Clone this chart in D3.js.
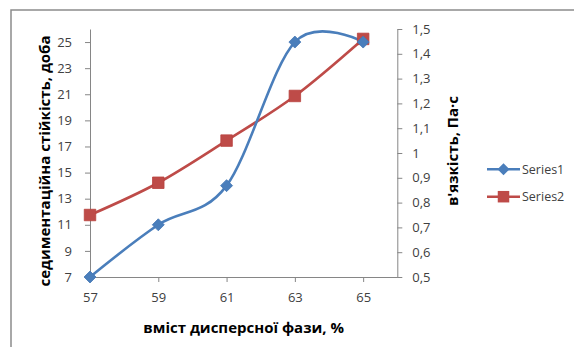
<!DOCTYPE html>
<html>
<head>
<meta charset="utf-8">
<script src="https://cdn.jsdelivr.net/npm/d3@7"></script>
<style>
  html, body { margin: 0; padding: 0; background: #fff; }
  svg { display: block; font-family: "Open Sans", "Noto Sans", sans-serif; }
</style>
</head>
<body>
<svg id="chart" width="574" height="347"></svg>
<script>
// ---- data ----
const xValues = [57, 59, 61, 63, 65];
const series1 = [7, 11, 14, 25, 25];          // седиментаційна стійкість, доба (left axis)
const series2 = [0.75, 0.88, 1.05, 1.23, 1.46]; // в'язкість, Па·с (right axis)
const seriesNames = ["Series1", "Series2"];
const xTicks = [57, 59, 61, 63, 65];
const leftTicks = [7, 9, 11, 13, 15, 17, 19, 21, 23, 25];
const rightTicks = [0.5, 0.6, 0.7, 0.8, 0.9, 1.0, 1.1, 1.2, 1.3, 1.4, 1.5];
const rightTickLabels = ["0,5", "0,6", "0,7", "0,8", "0,9", "1", "1,1", "1,2", "1,3", "1,4", "1,5"];
const xTitle = "вміст дисперсної фази, %";
const leftTitle = "седиментаційна стійкість, доба";
const rightTitle = "в'язкість, Па·с";

const blue = "#4A7EBB", red = "#BE4B48";
const axisColor = "#868686", textColor = "#404040";

const svg = d3.select("#chart");

// outer chart border (top and left visible)
svg.append("path")
  .attr("d", "M11,347 L11,10 L574,10")
  .attr("fill", "none").attr("stroke", "#8c8c8c").attr("stroke-width", 1.5);

const plot = { left: 90, right: 397.3, top: 29, bottom: 277 };

const x = d3.scaleLinear().domain([57, 66]).range([plot.left, plot.right]);
const yL = d3.scaleLinear().domain([7, 26]).range([plot.bottom, plot.top]);
const yR = d3.scaleLinear().domain([0.5, 1.5]).range([plot.bottom, plot.top]);

function styleAxis(g) {
  g.select(".domain").attr("stroke", axisColor).attr("stroke-width", 1);
  g.selectAll(".tick line").attr("stroke", axisColor);
  g.selectAll(".tick text").attr("fill", textColor).style("font-size", "13px")
    .style("font-family", '"Open Sans", sans-serif');
}

// axes
svg.append("g").attr("transform", `translate(0,${plot.bottom})`)
  .call(d3.axisBottom(x).tickValues(xTicks).tickSize(5).tickSizeOuter(0).tickPadding(11))
  .call(styleAxis);

svg.append("g").attr("transform", `translate(${plot.left},0)`)
  .call(d3.axisLeft(yL).tickValues(leftTicks).tickSize(5).tickSizeOuter(0).tickPadding(13))
  .call(styleAxis);

svg.append("g").attr("transform", `translate(${plot.right},0)`)
  .call(d3.axisRight(yR).tickValues(rightTicks).tickSize(5).tickSizeOuter(0).tickPadding(10)
    .tickFormat((d, i) => rightTickLabels[i]))
  .call(styleAxis);

// lines
const curve = d3.curveCardinal.tension(0);
const d1 = xValues.map((v, i) => [x(v), yL(series1[i])]);
const d2 = xValues.map((v, i) => [x(v), yR(series2[i])]);

svg.append("path").attr("d", d3.line().curve(curve)(d2))
  .attr("fill", "none").attr("stroke", red).attr("stroke-width", 2.6);
svg.append("path").attr("d", d3.line().curve(curve)(d1))
  .attr("fill", "none").attr("stroke", blue).attr("stroke-width", 2.6);

function diamond(cx, cy, r) {
  return `M${cx},${cy - r}L${cx + r},${cy}L${cx},${cy + r}L${cx - r},${cy}Z`;
}
function square(cx, cy, s) {
  return `M${cx - s / 2},${cy - s / 2}h${s}v${s}h${-s}Z`;
}

svg.append("g").selectAll("path").data(d2).join("path")
  .attr("d", d => square(d[0], d[1], 11.5))
  .attr("fill", red).attr("stroke", "#B9413E").attr("stroke-width", 0.8);
svg.append("g").selectAll("path").data(d1).join("path")
  .attr("d", d => diamond(d[0], d[1], 6))
  .attr("fill", blue).attr("stroke", "#4577B5").attr("stroke-width", 0.8);

// axis titles
svg.append("text").attr("transform", `translate(44,161) rotate(-90)`)
  .attr("text-anchor", "middle").attr("dominant-baseline", "central")
  .style("font-size", "15px").style("font-weight", "bold").attr("fill", "#000")
  .text(leftTitle);

svg.append("text").attr("transform", `translate(452,151) rotate(-90)`)
  .attr("text-anchor", "middle").attr("dominant-baseline", "central")
  .style("font-size", "15px").style("font-weight", "bold").attr("fill", "#000")
  .text(rightTitle);

svg.append("text").attr("x", (plot.left + plot.right) / 2).attr("y", 327)
  .attr("text-anchor", "middle").attr("dominant-baseline", "central")
  .style("font-size", "15px").style("font-weight", "bold").attr("fill", "#000")
  .text(xTitle);

// legend
const legend = [
  { name: seriesNames[0], color: blue, y: 169.3, shape: "diamond" },
  { name: seriesNames[1], color: red, y: 196.7, shape: "square" }
];
const lg = svg.append("g");
legend.forEach(l => {
  lg.append("line").attr("x1", 487).attr("x2", 520).attr("y1", l.y).attr("y2", l.y)
    .attr("stroke", l.color).attr("stroke-width", 2.6);
  lg.append("path")
    .attr("d", l.shape === "diamond" ? diamond(503.5, l.y, 6) : square(503.5, l.y, 11.5))
    .attr("fill", l.color);
  lg.append("text").attr("x", 522).attr("y", l.y).attr("dominant-baseline", "central")
    .style("font-size", "12.5px").attr("fill", textColor).text(l.name);
});
</script>
</body>
</html>
